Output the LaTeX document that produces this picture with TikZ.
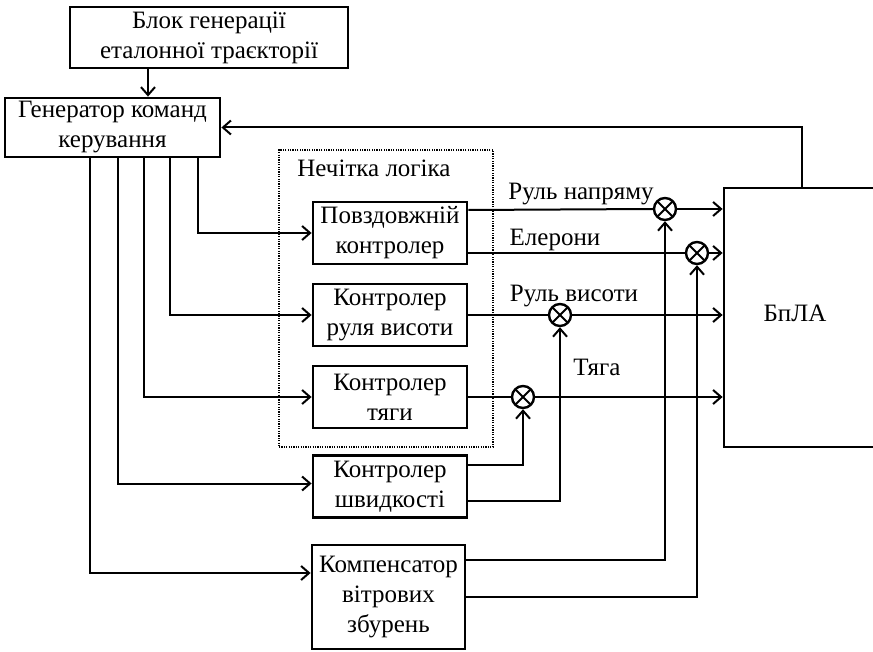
\documentclass[tikz,border=0pt]{standalone}
\usepackage{fontspec}
\setmainfont{Liberation Serif}
\usetikzlibrary{arrows.meta}
\begin{document}
\begin{tikzpicture}[x=0.5pt, y=-0.5pt, line width=1pt,
  font=\fontsize{12.5}{15}\selectfont,
  box/.style = {draw, line width=1.4pt, align=center, inner sep=0pt, minimum width=77pt, minimum height=31pt},
  sum/.style = {draw, circle, line width=1.2pt, inner sep=0pt, minimum size=11pt,
    path picture={\draw[line width=1pt] (path picture bounding box.north west) -- (path picture bounding box.south east)
      (path picture bounding box.north east) -- (path picture bounding box.south west);}},
  arr/.style = {-{Straight Barb[length=4pt,width=7pt,line width=1pt]}}]
  \useasboundingbox (0,0) rectangle (873,652);
  % blocks
  \node[box, minimum width=139pt, minimum height=30.5pt] (traj) at (209,37.5) {Блок генерації\\еталонної траєкторії};
  \node[box, minimum width=107.5pt, minimum height=29.5pt] (gen) at (112.5,127.5) {Генератор команд\\керування};
  \node[draw, line width=0.6pt, dash pattern=on 0.6pt off 0.6pt, minimum width=107pt, minimum height=148.5pt] (fuzzy) at (386,298.5) {};
  \node (fuzzylbl) at (374,168) {Нечітка логіка};
  \node[box] (lon) at (390,233) {Повздовжній\\контролер};
  \node[box] (elev) at (390,315) {Контролер\\руля висоти};
  \node[box] (thr) at (390,397) {Контролер\\тяги};
  \node[box] (spd) at (390,486.5) {Контролер\\швидкості};
  \node[box, minimum width=76.5pt, minimum height=52pt] (wind) at (388.5,597) {Компенсатор\\вітрових\\збурень};
  \node[draw, line width=1.4pt, minimum width=78pt, minimum height=129.5pt,
    label={[xshift=-3.5pt, yshift=2pt]center:БпЛА}] (uav) at (802,317.5) {};
  % summing points
  \node[sum] (s1) at (665,209) {};
  \node[sum] (s2) at (697,253) {};
  \node[sum] (s3) at (560,315) {};
  \node[sum] (s4) at (523,397) {};
  % signal labels
  \node (l1) at (581,194) {Руль напряму};
  \node (l2) at (555,240) {Елерони};
  \node (l3) at (574,296) {Руль висоти};
  \node (l4) at (597,367) {Тяга};
  % connections
  \draw[arr] ([xshift=-30.5pt]traj.south) -- ([xshift=-30.5pt]traj.south |- gen.north);
  \draw[arr] (uav.north) |- (gen.east);
  \draw[arr] ([xshift=42.75pt]gen.south) |- (lon.west);
  \draw[arr] ([xshift=28.75pt]gen.south) |- (elev.west);
  \draw[arr] ([xshift=15.75pt]gen.south) |- (thr.west);
  \draw[arr] ([xshift=2.75pt]gen.south) |- ([yshift=1.5pt]spd.west);
  \draw[arr] ([xshift=-11.25pt]gen.south) |- ([yshift=12pt]wind.west);
  \draw ([yshift=11.5pt]lon.east) -- (s1.west);
  \draw[arr] (s1.east) -- (s1.east -| uav.west);
  \draw ([yshift=-10pt]lon.east) -- (s2.west);
  \draw[arr] (s2.east) -- (s2.east -| uav.west);
  \draw (elev.east) -- (s3.west);
  \draw[arr] (s3.east) -- (s3.east -| uav.west);
  \draw (thr.east) -- (s4.west);
  \draw[arr] (s4.east) -- (s4.east -| uav.west);
  \draw[arr] ([yshift=10.75pt]spd.east) -| (s4.south);
  \draw[arr] ([yshift=-7.25pt]spd.east) -| (s3.south);
  \draw[arr] ([yshift=18.5pt]wind.east) -| (s1.south);
  \draw[arr] (wind.east) -| (s2.south);
\end{tikzpicture}
\end{document}
